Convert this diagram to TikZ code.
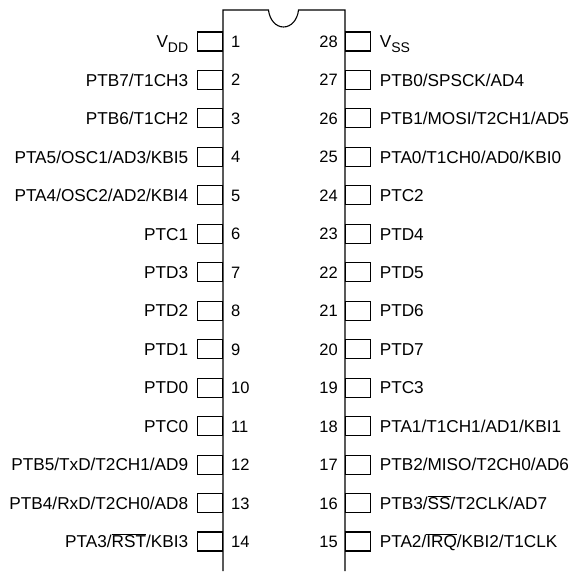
\documentclass[tikz,border=0pt]{standalone}
\usepackage{fontspec}
\setmainfont{Liberation Sans}
\usetikzlibrary{positioning}
\newcommand{\subtxt}[1]{\raisebox{-4.5pt}{\fontsize{14}{14}\selectfont #1}}
\newcommand{\ovl}[1]{$\overline{\mbox{#1}}$}
\tikzset{
  pinbox/.style   = {draw, rectangle, line width=1.1pt, minimum width=25pt, minimum height=19pt, inner sep=0pt},
  pinnum/.style   = {inner sep=0pt, text height=12pt, text depth=0pt, font=\fontsize{16.5}{16.5}\selectfont},
  pinlabel/.style = {inner sep=0pt, text height=12.5pt, text depth=0pt, align=center, font=\fontsize{17.2}{17.2}\selectfont}
}

\begin{document}
\begin{tikzpicture}[x=1pt, y=1pt]
	  \useasboundingbox (0,0) rectangle (572,-571);

	  % outline of the package, open at the bottom
	  \coordinate (bodyBL) at (223,-571);
	  \coordinate (bodyTL) at (223,-10);
	  \coordinate (bodyTR) at (345,-10);
	  \coordinate (bodyBR) at (345,-571);
	  \coordinate (notchL) at (268.5,-10);
	  \coordinate (notchR) at (298.5,-10);
	  \draw[line width=1.1pt] (bodyBL) -- (bodyTL) -- (notchL)
		.. controls (269.5,-20) and (276,-27) .. (283.5,-27)
		.. controls (291,-27) and (297.5,-20) .. (notchR)
		-- (bodyTR) -- (bodyBR);

	  % left row of pins
	  \foreach \value/\name in {1/{V\subtxt{DD}},2/{PTB7/T1CH3},3/{PTB6/T1CH2},
		4/{PTA5/OSC1/AD3/KBI5},5/{PTA4/OSC2/AD2/KBI4},6/{PTC1},7/{PTD3},8/{PTD2},
		9/{PTD1},10/{PTD0},11/{PTC0},12/{PTB5/TxD/T2CH1/AD9},
		13/{PTB4/RxD/T2CH0/AD8},14/{PTA3/\ovl{RST}/KBI3}}
	  {
		\node[pinbox, anchor=east] (p\value) at (223,{-41.5-38.46*(\value-1)}) {};
		\node[pinlabel, left=8.5pt of p\value] (l\value) {\name};
		\node[pinnum, anchor=west] (n\value) at (231,{-41.5-38.46*(\value-1)}) {\value};
	  }

	  % right row of pins
	  \foreach \value/\name in {28/{V\subtxt{SS}},27/{PTB0/SPSCK/AD4},
		26/{PTB1/MOSI/T2CH1/AD5},25/{PTA0/T1CH0/AD0/KBI0},24/{PTC2},23/{PTD4},
		22/{PTD5},21/{PTD6},20/{PTD7},19/{PTC3},18/{PTA1/T1CH1/AD1/KBI1},
		17/{PTB2/MISO/T2CH0/AD6},16/{PTB3/\ovl{SS}/T2CLK/AD7},
		15/{PTA2/\ovl{IRQ}/KBI2/T1CLK}}
	  {
		\node[pinbox, anchor=west] (p\value) at (345,{-41.5-38.46*(28-\value)}) {};
		\node[pinlabel, right=8.5pt of p\value] (l\value) {\name};
		\node[pinnum, anchor=east] (n\value) at (338,{-41.5-38.46*(28-\value)}) {\value};
	  }
\end{tikzpicture}
\end{document}
